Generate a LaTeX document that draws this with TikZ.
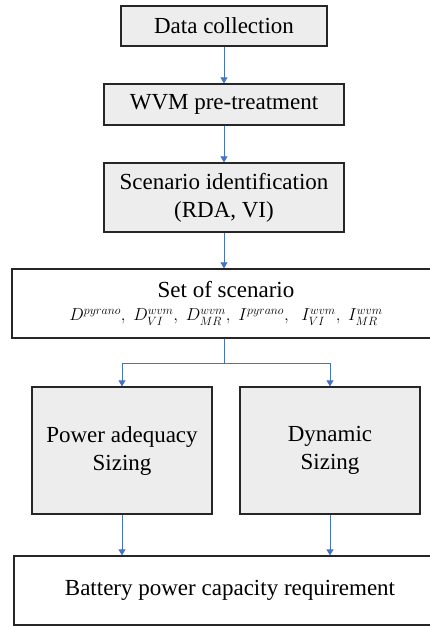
\documentclass[tikz,border=0pt]{standalone}
\usepackage{fontspec}
\setmainfont{Liberation Serif}
\usetikzlibrary{arrows.meta}
\definecolor{boxgray}{HTML}{EDEDED}
\definecolor{linkblue}{HTML}{4472C4}
\tikzset{box/.style={draw=black!85, line width=1.2pt, align=center, inner sep=0pt, font=\fontsize{23}{28}\selectfont},
  grey/.style={box, fill=boxgray}, white/.style={box, fill=white},
  link/.style={linkblue, line width=0.8pt, -{Triangle[width=7pt,length=6pt]}}}

\begin{document}
\begin{tikzpicture}[x=1pt,y=-1pt]
  \useasboundingbox (0,0) rectangle (430,626);
  \node[grey,  minimum width=206pt, minimum height=40pt]  (dc)  at (224, 26.0) {Data collection};
  \node[grey,  minimum width=240pt, minimum height=41pt]  (wvm) at (224,104.5) {WVM pre-treatment};
  \node[grey,  minimum width=240pt, minimum height=69pt]  (sid) at (224,197.5) {Scenario identification\\(RDA, VI)};
  \node[white, minimum width=428pt, minimum height=69pt]  (set) at (226,303.5) {Set of scenario\\[-5pt]
    {\fontsize{18}{21}\selectfont$D^{pyrano},\;D^{wvm}_{VI},\;D^{wvm}_{MR},\;I^{pyrano},\;\;I^{wvm}_{VI},\;I^{wvm}_{MR}$}};
  \node[grey,  minimum width=180pt, minimum height=127pt] (pa)  at (122,450.5) {Power adequacy\\Sizing};
  \node[grey,  minimum width=180pt, minimum height=127pt] (dyn) at (330,450.5) {Dynamic\\Sizing};
  \node[white, minimum width=432pt, minimum height=69pt]  (bat) at (230,590.5) {Battery power capacity requirement};

  \coordinate (fork) at (224,363);
  \draw[link] (dc) -- (wvm);
  \draw[link] (wvm) -- (sid);
  \draw[link] (sid) -- (sid.south |- set.north);
  \draw[linkblue, line width=0.8pt] (set.south -| fork) -- (fork);
  \draw[link] (fork) -| (pa);
  \draw[link] (fork) -| (dyn);
  \draw[link] (pa) -- (pa.south |- bat.north);
  \draw[link] (dyn) -- (dyn.south |- bat.north);
\end{tikzpicture}
\end{document}
